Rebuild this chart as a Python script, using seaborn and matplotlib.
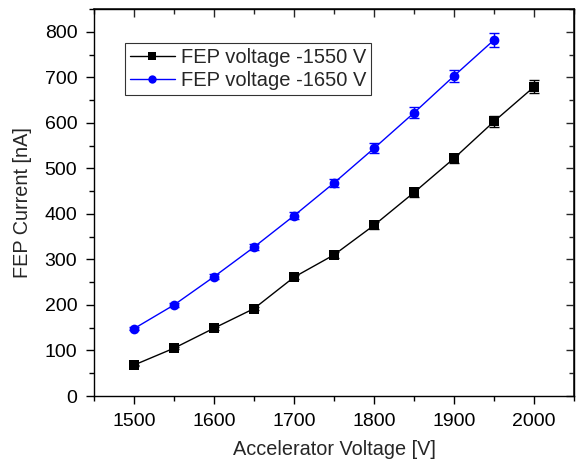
import matplotlib
matplotlib.use("Agg")
import matplotlib.pyplot as plt
from matplotlib.ticker import MultipleLocator
import seaborn as sns
import pandas as pd

# Accelerator voltage [V]
volt_1550 = [1500, 1550, 1600, 1650, 1700, 1750, 1800, 1850, 1900, 1950, 2000]
volt_1650 = [1500, 1550, 1600, 1650, 1700, 1750, 1800, 1850, 1900, 1950]

# FEP current [nA]
current_1550 = [68, 105, 149, 192, 261, 310, 375, 447, 522, 603, 679]
current_1650 = [148, 200, 262, 327, 396, 468, 544, 622, 703, 782]

# Measurement uncertainty [nA]
err_1550 = [1, 2, 3, 4, 5, 6, 8, 9, 10, 12, 14]
err_1650 = [3, 4, 5, 7, 8, 9, 11, 12, 14, 16]

label_1550 = "FEP voltage -1550 V"
label_1650 = "FEP voltage -1650 V"

sns.set_theme(style="white")
plt.rcParams["font.family"] = ["Liberation Sans", "DejaVu Sans"]
plt.rcParams["font.size"] = 14

df = pd.concat([
    pd.DataFrame({"V": volt_1550, "I": current_1550, "series": label_1550}),
    pd.DataFrame({"V": volt_1650, "I": current_1650, "series": label_1650}),
])

fig = plt.figure(figsize=(5.81, 4.66), dpi=100)
ax = fig.add_axes([0.1618, 0.1502, 0.8262, 0.8305])

ax.errorbar(volt_1550, current_1550, yerr=err_1550, fmt="none",
            ecolor="black", elinewidth=1.0, capsize=3.5, capthick=1.0, zorder=2)
ax.errorbar(volt_1650, current_1650, yerr=err_1650, fmt="none",
            ecolor="#0000FF", elinewidth=1.0, capsize=3.5, capthick=1.0, zorder=2)

sns.lineplot(data=df, x="V", y="I", hue="series", style="series",
             palette={label_1550: "black", label_1650: "#0000FF"},
             markers={label_1550: "s", label_1650: "o"},
             dashes=False, markersize=7.0, markeredgewidth=0,
             linewidth=1.0, ax=ax, zorder=3)

ax.set_xlim(1450, 2050)
ax.set_ylim(0, 850)
ax.xaxis.set_major_locator(MultipleLocator(100))
ax.xaxis.set_minor_locator(MultipleLocator(50))
ax.yaxis.set_major_locator(MultipleLocator(100))
ax.yaxis.set_minor_locator(MultipleLocator(50))
ax.set_yticks(range(0, 801, 100))

ax.tick_params(which="major", direction="out", length=6, width=1.0,
               colors="black", labelsize=14)
ax.tick_params(which="minor", direction="out", length=3.5, width=1.0,
               colors="black")
ax.tick_params(axis="x", which="major", pad=6.5)
ax.tick_params(axis="y", which="major", pad=6)
ax.tick_params(bottom=True, left=True, which="both")

# Mirrored inward ticks on the top and right frame
top = ax.secondary_xaxis("top")
top.xaxis.set_major_locator(MultipleLocator(100))
top.xaxis.set_minor_locator(MultipleLocator(50))
top.tick_params(which="major", direction="in", length=6, width=1.0, labeltop=False)
top.tick_params(which="minor", direction="in", length=3.5, width=1.0)
right = ax.secondary_yaxis("right")
right.yaxis.set_major_locator(MultipleLocator(100))
right.yaxis.set_minor_locator(MultipleLocator(50))
right.tick_params(which="major", direction="in", length=6, width=1.0, labelright=False)
right.tick_params(which="minor", direction="in", length=3.5, width=1.0)

for s in ax.spines.values():
    s.set_color("black")
    s.set_linewidth(1.0)

ax.set_xlabel("Accelerator Voltage [V]", fontsize=14.3, labelpad=7)
ax.set_ylabel("FEP Current [nA]", fontsize=14.3, labelpad=9)

handles, labels = ax.get_legend_handles_labels()
for h in handles:
    h.set_markersize(6.0)
leg = ax.legend(handles, labels, loc="upper left", bbox_to_anchor=(0.065, 0.912),
                borderaxespad=0, frameon=True, fancybox=False, shadow=False,
                fontsize=14.5, handlelength=2.2, handletextpad=0.3,
                borderpad=0.25, labelspacing=0.2)
leg.get_frame().set_edgecolor("black")
leg.get_frame().set_linewidth(0.8)

fig.savefig("out.png", dpi=100)
